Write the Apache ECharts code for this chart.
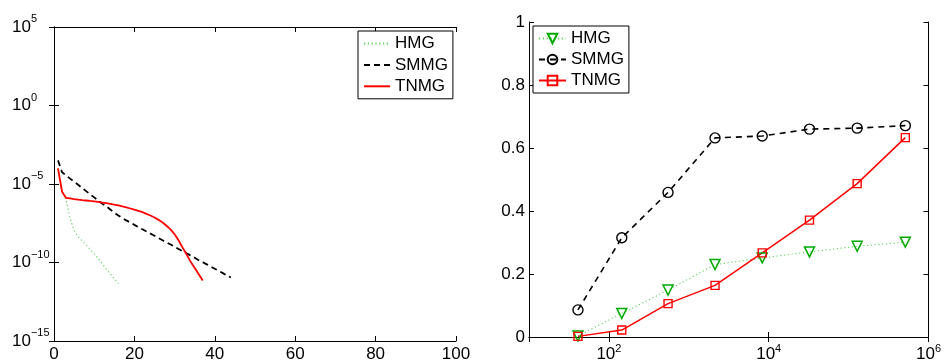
<!DOCTYPE html>
<html>
<head>
<meta charset="utf-8">
<script src="https://cdn.jsdelivr.net/npm/echarts@6/dist/echarts.min.js"></script>
<style>
  html, body { margin: 0; padding: 0; background: #fff; }
  #chart { width: 944px; height: 363px; }
</style>
</head>
<body>
<div id="chart"></div>
<script>
// Residual history per iteration (left panel), iterations start at 1
const hmgResidual = [1.0e-4, 3.2e-6, 1.0e-6, 6.3e-8, 1.1e-8, 4.5e-9, 2.4e-9, 1.3e-9,
  7.1e-10, 3.5e-10, 1.8e-10, 8.3e-11, 3.8e-11, 1.9e-11, 9.3e-12, 4.5e-12];
const smmgResidual = [3.2e-4, 5.6e-5, 3.5e-5, 2.2e-5, 1.4e-5, 8.9e-6, 5.6e-6, 3.5e-6,
  2.2e-6, 1.4e-6, 8.9e-7, 5.6e-7, 3.8e-7, 2.4e-7, 1.5e-7, 1.0e-7, 6.8e-8, 4.8e-8,
  3.5e-8, 2.5e-8, 1.8e-8, 1.3e-8, 9.5e-9, 6.9e-9, 5.0e-9, 3.6e-9, 2.6e-9, 1.9e-9,
  1.4e-9, 1.0e-9, 7.2e-10, 5.2e-10, 3.8e-10, 2.8e-10, 2.0e-10, 1.4e-10, 1.05e-10,
  7.6e-11, 5.5e-11, 4.0e-11, 2.9e-11, 2.1e-11, 1.5e-11, 1.1e-11];
const tnmgResidual = [1.0e-4, 3.2e-6, 1.3e-6, 1.2e-6, 1.1e-6, 1.02e-6, 9.5e-7, 8.9e-7,
  8.3e-7, 7.8e-7, 7.2e-7, 6.6e-7, 6.0e-7, 5.4e-7, 4.8e-7, 4.3e-7, 3.7e-7, 3.2e-7,
  2.75e-7, 2.3e-7, 1.95e-7, 1.6e-7, 1.26e-7, 9.8e-8, 7.4e-8, 5.2e-8, 3.5e-8, 2.2e-8,
  1.3e-8, 6.3e-9, 2.5e-9, 8.9e-10, 3.2e-10, 1.1e-10, 4.5e-11, 1.8e-11, 7.1e-12];

// Ratio versus problem size (right panel)
const problemSizes = [41, 145, 550, 2130, 8300, 32400, 128000, 513000];
const hmgRatio  = [0.003, 0.075, 0.149, 0.230, 0.251, 0.270, 0.288, 0.301];
const smmgRatio = [0.086, 0.315, 0.459, 0.632, 0.638, 0.660, 0.663, 0.671];
const tnmgRatio = [0.002, 0.022, 0.106, 0.164, 0.267, 0.371, 0.487, 0.633];

const legendNames = ['HMG', 'SMMG', 'TNMG'];
const iterTicks = { min: 0, max: 100, step: 20 };
const ratioTicks = { min: 0, max: 1, step: 0.2 };

const FONT = '"Liberation Sans", Arial, Helvetica, sans-serif';
const withIter = arr => arr.map((v, i) => [i + 1, v]);
const withSize = arr => arr.map((v, i) => [problemSizes[i], v]);
const pow10Label = (v, hideOdd) => {
  const e = Math.round(Math.log10(v));
  if (hideOdd && e % 2 !== 0) return '';
  return '{b|10}{s|' + (e < 0 ? '\u2212' + (-e) : e) + '}';
};
const tick = { show: true, inside: true, length: 5, lineStyle: { color: '#000', width: 1 } };
const line = { show: true, lineStyle: { color: '#000', width: 1 } };
const mirror = { show: false };

const chart = echarts.init(document.getElementById('chart'), null, { renderer: 'canvas' });

chart.setOption({
  animation: false,
  backgroundColor: '#fff',
  textStyle: { fontFamily: FONT },
  grid: [
    { left: 54, top: 27, width: 402, height: 316, show: false },
    { left: 529, top: 22, width: 402, height: 316, show: false }
  ],
  legend: [
    {
      data: legendNames,
      orient: 'vertical', left: 358, top: 31,
      itemWidth: 26, itemHeight: 12, itemGap: 4.4,
      padding: [4, 5, 4, 5],
      itemStyle: { opacity: 0 },
      backgroundColor: '#fff', borderColor: '#000', borderWidth: 1, borderRadius: 0,
      textStyle: { fontSize: 17, color: '#000', fontFamily: FONT },
      selectedMode: false
    },
    {
      data: legendNames.map(n => n + ' '),
      formatter: n => n.trim(),
      orient: 'vertical', left: 533, top: 26,
      itemWidth: 27, itemHeight: 12, itemGap: 4,
      padding: [4, 5, 4, 5],
      backgroundColor: '#fff', borderColor: '#000', borderWidth: 1, borderRadius: 0,
      textStyle: { fontSize: 17, color: '#000', fontFamily: FONT },
      selectedMode: false
    }
  ],
  xAxis: [
    {
      gridIndex: 0, type: 'value', position: 'bottom',
      min: iterTicks.min, max: iterTicks.max, interval: iterTicks.step,
      axisLine: line, axisTick: tick, splitLine: { show: false },
      axisLabel: { fontSize: 17, color: '#000', margin: 5, fontFamily: FONT }
    },
    {
      gridIndex: 0, type: 'value', position: 'top',
      min: iterTicks.min, max: iterTicks.max, interval: iterTicks.step,
      axisLine: line, axisTick: tick, splitLine: { show: false }, axisLabel: mirror
    },
    {
      gridIndex: 1, type: 'log', logBase: 100, position: 'bottom',
      min: 10, max: 1e6,
      axisLine: line, axisTick: tick, splitLine: { show: false }, minorTick: { show: false },
      axisLabel: {
        margin: 6, color: '#000', fontFamily: FONT,
        formatter: v => pow10Label(v, true),
        rich: {
          b: { fontSize: 17, color: '#000', fontFamily: FONT },
          s: { fontSize: 11, color: '#000', fontFamily: FONT, padding: [0, 0, 12, 0] }
        }
      }
    },
    {
      gridIndex: 1, type: 'log', logBase: 100, position: 'top',
      min: 10, max: 1e6,
      axisLine: line, axisTick: tick, splitLine: { show: false }, axisLabel: mirror
    }
  ],
  yAxis: [
    {
      gridIndex: 0, type: 'log', logBase: 1e5, position: 'left',
      min: 1e-15, max: 1e5,
      axisLine: line, axisTick: tick, splitLine: { show: false }, minorTick: { show: false },
      axisLabel: {
        margin: 42, align: 'left', color: '#000', fontFamily: FONT,
        formatter: v => pow10Label(v, false),
        rich: {
          b: { fontSize: 17, color: '#000', fontFamily: FONT },
          s: { fontSize: 11, color: '#000', fontFamily: FONT, padding: [0, 0, 16, 0] }
        }
      }
    },
    {
      gridIndex: 0, type: 'log', logBase: 1e5, position: 'right',
      min: 1e-15, max: 1e5,
      axisLine: line, axisTick: tick, splitLine: { show: false }, axisLabel: mirror
    },
    {
      gridIndex: 1, type: 'value', position: 'left',
      min: ratioTicks.min, max: ratioTicks.max, interval: ratioTicks.step,
      axisLine: line, axisTick: tick, splitLine: { show: false },
      axisLabel: { fontSize: 17, color: '#000', margin: 4, fontFamily: FONT }
    },
    {
      gridIndex: 1, type: 'value', position: 'right',
      min: ratioTicks.min, max: ratioTicks.max, interval: ratioTicks.step,
      axisLine: line, axisTick: tick, splitLine: { show: false }, axisLabel: mirror
    }
  ],
  series: [
    // convergence histories
    {
      name: 'HMG', type: 'line', xAxisIndex: 0, yAxisIndex: 0,
      data: withIter(hmgResidual), symbol: 'none', silent: true,
      itemStyle: { color: '#5fd35f' },
      lineStyle: { color: '#5fd35f', width: 1.2, type: [1.2, 2.6] }
    },
    {
      name: 'SMMG', type: 'line', xAxisIndex: 0, yAxisIndex: 0,
      data: withIter(smmgResidual), symbol: 'none', silent: true,
      itemStyle: { color: '#000' },
      lineStyle: { color: '#000', width: 1.8, type: [6, 4] }
    },
    {
      name: 'TNMG', type: 'line', xAxisIndex: 0, yAxisIndex: 0,
      data: withIter(tnmgResidual), symbol: 'none', silent: true,
      itemStyle: { color: '#ff0000' },
      lineStyle: { color: '#ff0000', width: 1.8 }
    },
    // ratios against problem size
    {
      name: 'HMG ', type: 'line', xAxisIndex: 2, yAxisIndex: 2,
      data: withSize(hmgRatio), symbol: 'triangle', symbolRotate: 180, symbolSize: 10,
      showAllSymbol: true, silent: true,
      itemStyle: { color: 'rgba(255,255,255,0)', borderColor: '#00aa00', borderWidth: 1.5 },
      lineStyle: { color: '#5fd35f', width: 1.1, type: [1.2, 2.6] }
    },
    {
      name: 'SMMG ', type: 'line', xAxisIndex: 2, yAxisIndex: 2,
      data: withSize(smmgRatio), symbol: 'circle', symbolSize: 10,
      showAllSymbol: true, silent: true,
      itemStyle: { color: 'rgba(255,255,255,0)', borderColor: '#000', borderWidth: 1.4 },
      lineStyle: { color: '#000', width: 1.6, type: [6, 5] }
    },
    {
      name: 'TNMG ', type: 'line', xAxisIndex: 2, yAxisIndex: 2,
      data: withSize(tnmgRatio), symbol: 'rect', symbolSize: 8,
      showAllSymbol: true, silent: true,
      itemStyle: { color: 'rgba(255,255,255,0)', borderColor: '#ff0000', borderWidth: 1.4 },
      lineStyle: { color: '#ff0000', width: 1.5 }
    }
  ]
});
</script>
</body>
</html>
